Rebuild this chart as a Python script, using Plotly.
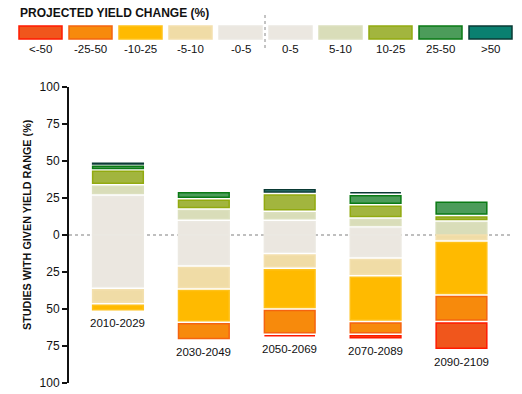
import plotly.graph_objects as go

categories = ["2010-2029", "2030-2049", "2050-2069", "2070-2089", "2090-2109"]

# positive side (share of studies, %)
pos_0_5 = [27, 10, 10, 5.5, 0]
pos_5_10 = [7, 7.5, 6, 6, 9.5]
pos_10_25 = [10, 7, 12, 9, 3.7]
pos_25_50 = [3.5, 5, 0, 7, 10]
pos_gt50 = [1.5, 0, 3.5, 2, 0]
# negative side (share of studies, %)
neg_0_5 = [36, 21, 12.5, 15.5, 0]
neg_5_10 = [10.5, 15.5, 10, 12, 4]
neg_10_25 = [5, 22.5, 27.5, 31, 36.5]
neg_25_50 = [0, 12, 17, 8.5, 18]
neg_lt50 = [0, 0, 2, 3.5, 19]

legend_labels = ["<-50", "-25-50", "-10-25", "-5-10", "-0-5", "0-5", "5-10", "10-25", "25-50", ">50"]
y_tick_vals = [-100, -75, -50, -25, 0, 25, 50, 75, 100]
y_tick_text = ["100", "75", "50", "25", "0", "25", "50", "75", "100"]

fills = {
    "<-50": "#F0561C", "-25-50": "#F78A0C", "-10-25": "#FFBA00", "-5-10": "#F0DCA6",
    "-0-5": "#EBE7E0", "0-5": "#EBE7E0", "5-10": "#D9DDB9", "10-25": "#A2B53E",
    "25-50": "#4C9C5A", ">50": "#3E8F8A",
}
borders = {
    "<-50": "#FF1A00", "-25-50": "#F5640F", "-10-25": "#FFC21A", "-5-10": "#F3E0AE",
    "-0-5": "#ECE9E2", "0-5": "#ECE9E2", "5-10": "#DCE0BE", "10-25": "#92AA10",
    "25-50": "#0A7A14", ">50": "#0A3A34",
}
legend_fills = dict(fills)
legend_fills[">50"] = "#0A8070"

FONT = "Liberation Sans, Arial, sans-serif"
W, H = 522, 394
ML, MR, MT, MB = 69, 9, 87, 11
PW, PH = W - ML - MR, H - MT - MB
GAP = 2.0  # white separation between segments (data units)
BAR_W = 0.59

fig = go.Figure()

def add_side(series_list, names, sign):
    cum = [0.0] * len(categories)
    for vals, name in zip(series_list, names):
        bases, lens = [], []
        for i, v in enumerate(vals):
            a, b = cum[i], cum[i] + v
            cum[i] = b
            if v <= 0:
                bases.append(None); lens.append(None); continue
            inner = a + (GAP / 2 if a > 0 else 0)
            outer = b - GAP / 2
            bases.append(sign * inner)
            lens.append(sign * (outer - inner))
        fig.add_trace(go.Bar(
            x=list(range(len(categories))), y=lens, base=bases, width=BAR_W,
            marker=dict(color=fills[name], line=dict(color=borders[name], width=1.5)),
            name=name, showlegend=False, hoverinfo="skip",
        ))
    return cum

add_side([pos_0_5, pos_5_10, pos_10_25, pos_25_50, pos_gt50],
         ["0-5", "5-10", "10-25", "25-50", ">50"], 1)
neg_tot = add_side([neg_0_5, neg_5_10, neg_10_25, neg_25_50, neg_lt50],
                   ["-0-5", "-5-10", "-10-25", "-25-50", "<-50"], -1)

# category labels under each bar
for i, c in enumerate(categories):
    fig.add_annotation(x=i, y=-neg_tot[i], xref="x", yref="y", text=c, showarrow=False,
                       yanchor="top", yshift=-4, font=dict(size=11.5, color="#111", family=FONT))

# zero line (dotted)
fig.add_shape(type="line", xref="paper", yref="y", x0=0, x1=1, y0=0, y1=0,
              line=dict(color="#AAAAAA", width=1.5, dash="dot"), layer="below")

# legend drawn above the plot
def px(x):
    return (x - ML) / PW

def py(y):
    return (H - MB - y) / PH

fig.add_annotation(x=px(18), y=py(13), xref="paper", yref="paper", text="<b>PROJECTED YIELD CHANGE (%)</b>",
                   showarrow=False, xanchor="left", yanchor="middle",
                   font=dict(size=12, color="#111", family=FONT))
for k, lab in enumerate(legend_labels):
    x0 = 19 + 50 * k
    fig.add_shape(type="rect", xref="paper", yref="paper", x0=px(x0), x1=px(x0 + 43), y0=py(26), y1=py(39),
                  fillcolor=legend_fills[lab], line=dict(color=borders[lab], width=1.5))
    fig.add_annotation(x=px(x0 + 21.5), y=py(48.5), xref="paper", yref="paper", text=lab, showarrow=False,
                       xanchor="center", yanchor="middle", font=dict(size=11.5, color="#111", family=FONT))
fig.add_shape(type="line", xref="paper", yref="paper", x0=px(265), x1=px(265), y0=py(15), y1=py(48),
              line=dict(color="#888888", width=1, dash="dot"))

# y-axis title
fig.add_annotation(x=px(27), y=py(225), xref="paper", yref="paper",
                   text="<b>STUDIES WITH GIVEN YIELD RANGE (%)</b>", textangle=-90, showarrow=False,
                   xanchor="center", yanchor="middle", font=dict(size=10.8, color="#111", family=FONT))

fig.update_layout(
    width=W, height=H, barmode="overlay",
    margin=dict(l=ML, r=MR, t=MT, b=MB, autoexpand=False),
    paper_bgcolor="white", plot_bgcolor="white",
    font=dict(family=FONT, color="#111", size=11),
    xaxis=dict(range=[-0.57, 4.6], visible=False, automargin=False),
    yaxis=dict(range=[-100, 100], tickvals=y_tick_vals, ticktext=y_tick_text, automargin=False,
               showgrid=False, zeroline=False, showline=True, linecolor="#111", linewidth=2,
               ticks="outside", ticklen=5, tickwidth=1.5, tickcolor="#111",
               tickfont=dict(size=12, color="#111", family=FONT)),
)

fig.write_html("out.html", config={"displayModeBar": False},
               post_script="document.body.style.margin='0';document.body.style.overflow='hidden';")
